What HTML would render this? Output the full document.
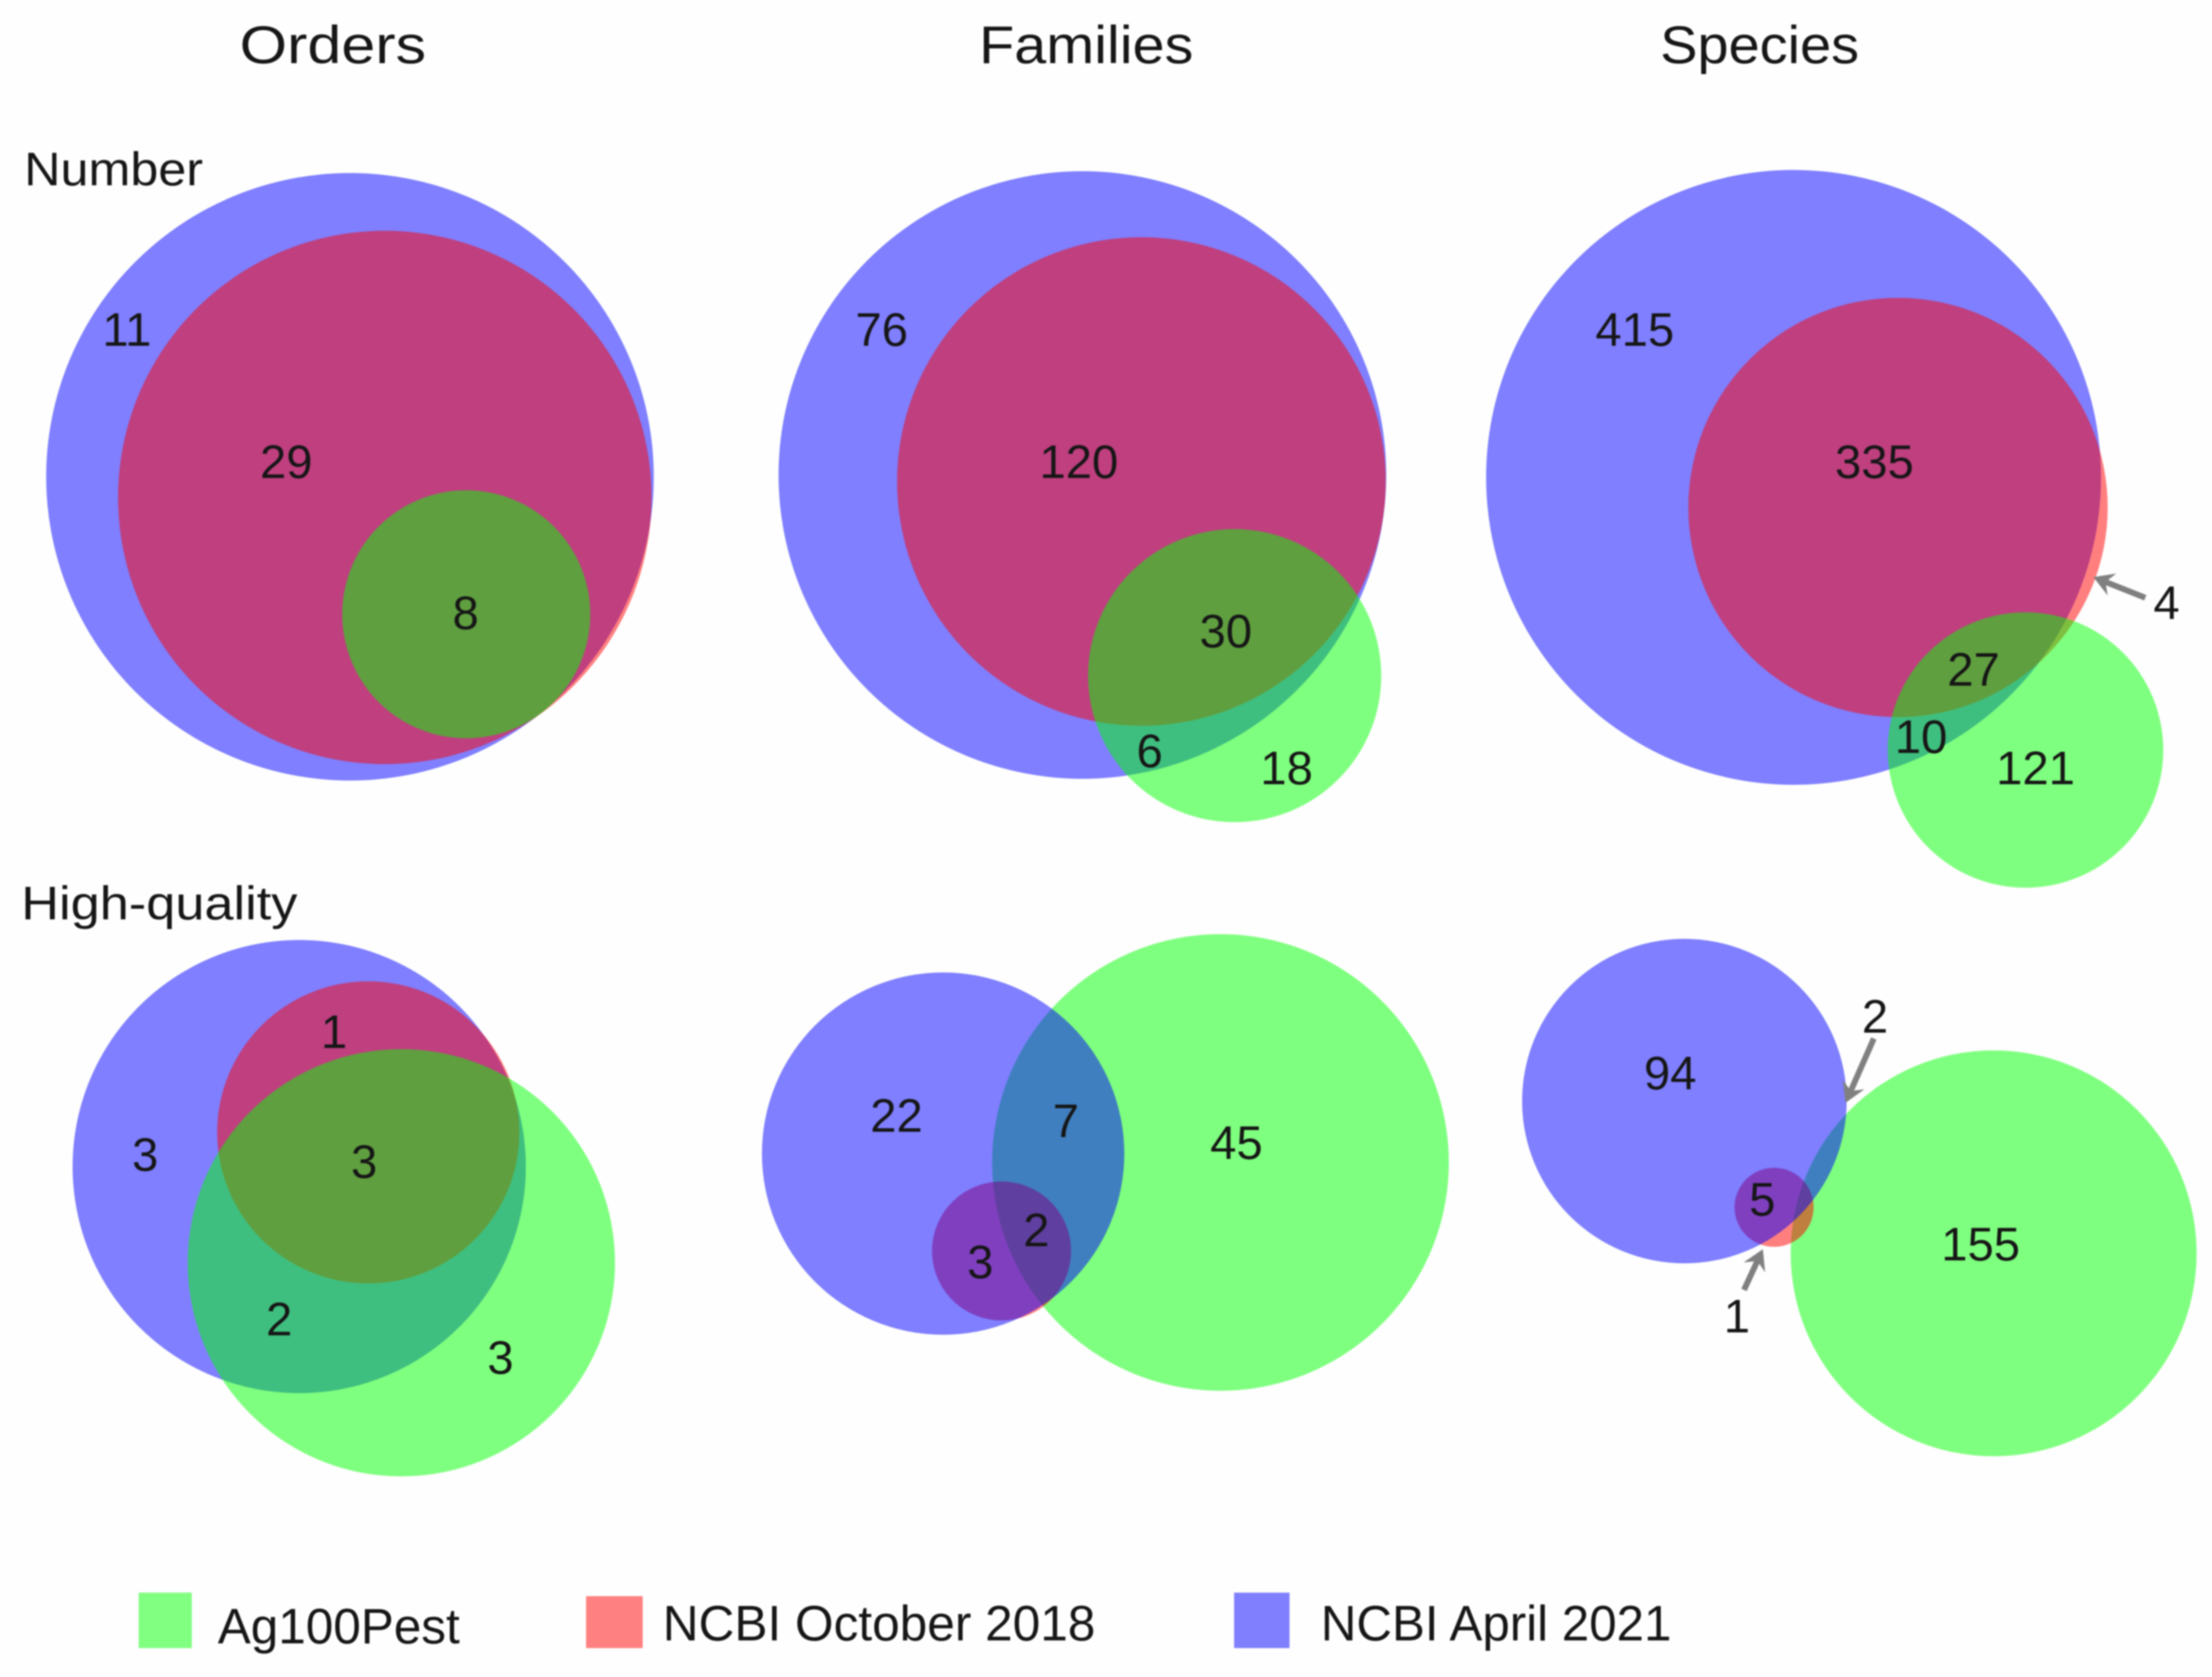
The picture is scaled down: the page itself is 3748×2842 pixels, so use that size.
<!DOCTYPE html>
<html lang="en">
<head>
<meta charset="utf-8">
<title>Venn diagrams: Ag100Pest and NCBI</title>
<style>
html,body{margin:0;padding:0;background:#fff;}
body{width:3748px;height:2842px;overflow:hidden;}
svg{display:block;filter:blur(1.4px);}
text{font-family:"Liberation Sans",sans-serif;fill:#161616;}
</style>
</head>
<body>
<svg id="chart" xmlns="http://www.w3.org/2000/svg" width="3748" height="2842" viewBox="0 0 3748 2842">
  <rect x="0" y="0" width="3748" height="2842" fill="#fefefe"/>
  <text x="406" y="107" font-size="90" textLength="316" lengthAdjust="spacingAndGlyphs">Orders</text>
  <text x="1659" y="107" font-size="90" textLength="363" lengthAdjust="spacingAndGlyphs">Families</text>
  <text x="2813" y="107" font-size="90" textLength="337" lengthAdjust="spacingAndGlyphs">Species</text>
  <text x="41" y="314" font-size="80" textLength="303" lengthAdjust="spacingAndGlyphs">Number</text>
  <text x="36" y="1558" font-size="80" textLength="468" lengthAdjust="spacingAndGlyphs">High-quality</text>
  <g id="panels"></g>
  <g id="annotations"></g>
  <g>
    <rect x="235" y="2699" width="90" height="94" fill="#80ff80"/>
    <text x="369" y="2785" font-size="84" textLength="410" lengthAdjust="spacingAndGlyphs">Ag100Pest</text>
    <rect x="993" y="2705" width="96" height="88" fill="#ff8080"/>
    <text x="1123" y="2780" font-size="84" textLength="733" lengthAdjust="spacingAndGlyphs">NCBI October 2018</text>
    <rect x="2091" y="2699" width="94" height="94" fill="#8080ff"/>
    <text x="2238" y="2780" font-size="84" textLength="594" lengthAdjust="spacingAndGlyphs">NCBI April 2021</text>
  </g>
</svg>
<script>
// Region membership codes: B = NCBI April 2021, R = NCBI October 2018, G = Ag100Pest
const ordersNumberRegions = ['B', 'BR', 'BRG'];
const ordersNumberCounts = [11, 29, 8];

const familiesNumberRegions = ['B', 'BR', 'BRG', 'BG', 'G'];
const familiesNumberCounts = [76, 120, 30, 6, 18];

const speciesNumberRegions = ['B', 'BR', 'BRG', 'BG', 'G', 'R'];
const speciesNumberCounts = [415, 335, 27, 10, 121, 4];

const ordersQualityRegions = ['BR', 'B', 'BRG', 'BG', 'G'];
const ordersQualityCounts = [1, 3, 3, 2, 3];

const familiesQualityRegions = ['B', 'BG', 'G', 'BR', 'BRG'];
const familiesQualityCounts = [22, 7, 45, 3, 2];

const speciesQualityRegions = ['B', 'BR', 'G', 'BG', 'RG'];
const speciesQualityCounts = [94, 5, 155, 2, 1];

const setColors = {B: '#0000ff', R: '#ff0000', G: '#00ff00'};
const setNames = {B: 'ncbi-april-2021', R: 'ncbi-october-2018', G: 'ag100pest'};

const SVGNS = 'http://www.w3.org/2000/svg';

function setTotal(regions, counts, setKey) {
  let total = 0;
  regions.forEach(function (code, i) {
    if (code.indexOf(setKey) >= 0) total += counts[i];
  });
  return total;
}

// Circle area is proportional to set size: radius axis for one panel
function radiusScale(pixelsPerRootCount) {
  return function (count) { return pixelsPerRootCount * Math.sqrt(count); };
}

function drawPanel(name, regions, counts, pixelsPerRootCount, drawOrder, centres, labelSpots) {
  const radius = radiusScale(pixelsPerRootCount);
  const group = document.createElementNS(SVGNS, 'g');
  
  
  document.getElementById('panels').appendChild(group);

  drawOrder.forEach(function (setKey) {
    const c = document.createElementNS(SVGNS, 'circle');
    c.setAttribute('cx', centres[setKey][0]);
    c.setAttribute('cy', centres[setKey][1]);
    c.setAttribute('r', radius(setTotal(regions, counts, setKey)));
    c.setAttribute('fill', setColors[setKey]);
    c.setAttribute('fill-opacity', '0.5');
    
    
    group.appendChild(c);
  });

  regions.forEach(function (code, i) {
    const t = document.createElementNS(SVGNS, 'text');
    t.setAttribute('x', labelSpots[i][0]);
    t.setAttribute('y', labelSpots[i][1]);
    t.setAttribute('font-size', '80');
    t.setAttribute('text-anchor', 'middle');
    
    
    t.textContent = counts[i];
    group.appendChild(t);
  });
}

function drawArrow(name, x1, y1, x2, y2) {
  const layer = document.getElementById('annotations');
  const len = Math.hypot(x2 - x1, y2 - y1);
  const ux = (x2 - x1) / len, uy = (y2 - y1) / len;
  const nx = -uy, ny = ux;
  const headLen = 34, headHalf = 20, notch = 22;
  const line = document.createElementNS(SVGNS, 'line');
  line.setAttribute('x1', x1);
  line.setAttribute('y1', y1);
  line.setAttribute('x2', x2 - ux * notch);
  line.setAttribute('y2', y2 - uy * notch);
  line.setAttribute('stroke', '#808080');
  line.setAttribute('stroke-width', '10');
  
  
  layer.appendChild(line);
  const head = document.createElementNS(SVGNS, 'polygon');
  const pts = [
    [x2, y2],
    [x2 - ux * headLen + nx * headHalf, y2 - uy * headLen + ny * headHalf],
    [x2 - ux * notch, y2 - uy * notch],
    [x2 - ux * headLen - nx * headHalf, y2 - uy * headLen - ny * headHalf]
  ];
  head.setAttribute('points', pts.map(function (p) { return p.join(','); }).join(' '));
  head.setAttribute('fill', '#808080');
  
  
  layer.appendChild(head);
}

drawPanel('orders-number', ordersNumberRegions, ordersNumberCounts, 74.3, ['B', 'R', 'G'],
  {B: [593, 808], R: [652, 843], G: [790, 1041]},
  [[215, 586], [485, 810], [789, 1066]]);

drawPanel('families-number', familiesNumberRegions, familiesNumberCounts, 33.8, ['B', 'R', 'G'],
  {B: [1834, 805], R: [1934, 816], G: [2092, 1145]},
  [[1494, 586], [1828, 810], [2077, 1097], [1948, 1300], [2180, 1329]]);

drawPanel('species-number', speciesNumberRegions, speciesNumberCounts, 18.57, ['B', 'R', 'G'],
  {B: [3039, 809], R: [3216, 860], G: [3432, 1271]},
  [[2770, 586], [3176, 810], [3344, 1162], [3255, 1276], [3449, 1329], [3671, 1049]]);

drawPanel('orders-high-quality', ordersQualityRegions, ordersQualityCounts, 128, ['B', 'R', 'G'],
  {B: [507, 1977], R: [624, 1919], G: [680, 2140]},
  [[566, 1776], [246, 1984], [617, 1996], [473, 2263], [848, 2328]]);

drawPanel('families-high-quality', familiesQualityRegions, familiesQualityCounts, 52.65, ['G', 'R', 'B'],
  {B: [1598, 1955], R: [1697, 2120], G: [2068, 1970]},
  [[1519, 1918], [1806, 1927], [2095, 1964], [1661, 2166], [1756, 2112]]);

drawPanel('species-high-quality', speciesQualityRegions, speciesQualityCounts, 27.36, ['G', 'R', 'B'],
  {B: [2854, 1866], R: [3006, 2046], G: [3378, 2124]},
  [[2830, 1846], [2986, 2060], [3356, 2136], [3177, 1750], [2943, 2258]]);

drawArrow('arrow-species-number-4', 3635, 1013, 3547, 978);
drawArrow('arrow-species-quality-2', 3175, 1760, 3127, 1869);
drawArrow('arrow-species-quality-1', 2955, 2186, 2987, 2117);
</script>
</body>
</html>
